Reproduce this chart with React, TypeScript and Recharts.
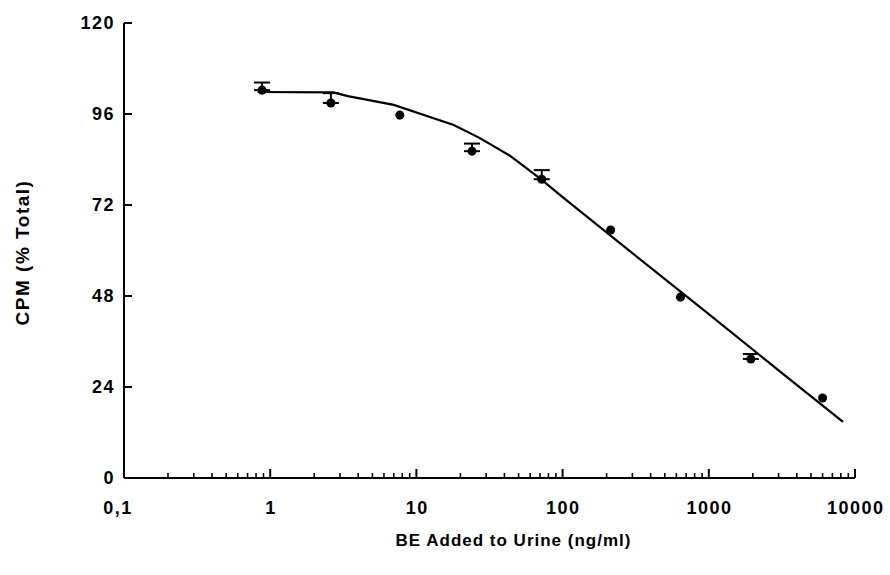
import React from 'react';
import { ComposedChart, Scatter, Line, XAxis, YAxis, ErrorBar, Label } from 'recharts';

// measured points: BE added (ng/ml) vs CPM (% total)
const doseX = [0.88, 2.6, 7.7, 24, 72, 213, 640, 1940, 6000];
const cpmY = [102.3, 98.9, 95.7, 86.2, 78.8, 65.4, 47.7, 31.4, 21.1];
const cpmErrUp = [2.0, 2.6, null, 2.0, 2.4, null, null, 1.3, null];

// fitted curve
const fitX = [0.82, 2.7, 3.4, 7, 18, 27, 44, 54, 72, 102, 300, 1000, 3000, 8280];
const fitY = [101.8, 101.7, 100.7, 98.4, 93.1, 89.7, 84.9, 82.3, 78.6, 73.8, 59.3, 43.2, 28.4, 14.8];

const yTicks = [0, 24, 48, 72, 96, 120];
const xMajorTicks = [0.1, 1, 10, 100, 1000, 10000];
const xMinorSteps = [2, 3, 4, 5, 6, 7, 8, 9];

const font = '"Liberation Sans", Arial, Helvetica, sans-serif';
const ink = '#000';

const points = doseX.map((x, i) => ({
  x,
  y: cpmY[i],
  err: cpmErrUp[i] == null ? null : [0, cpmErrUp[i]],
}));
const curve = fitX.map((x, i) => ({ x, y: fitY[i] }));

const xTicks = [
  ...xMajorTicks,
  ...xMajorTicks.slice(0, -1).flatMap((d) => xMinorSteps.map((s) => d * s)),
].sort((a, b) => a - b);

const formatX = (v: number) => (v < 1 ? String(v).replace('.', ',') : String(v));

const XTick = (props: any) => {
  const { x, y, payload } = props;
  const major = xMajorTicks.includes(payload.value);
  // the corner label sits a little left of its tick in the original
  const shift = payload.value < 1 ? -6 : 0.75;
  return (
    <g>
      <line x1={x} x2={x} y1={y} y2={y - (major ? 9 : 5)} stroke={ink} strokeWidth={major ? 2 : 1.6} />
      {major && (
        <text
          x={x + shift}
          y={y + 36}
          textAnchor="middle"
          fill={ink}
          fontSize={18}
          fontWeight={700}
          fontFamily={font}
          letterSpacing={1.5}
        >
          {formatX(payload.value)}
        </text>
      )}
    </g>
  );
};

export default function App() {
  return (
    <div style={{ position: 'absolute', left: 0, top: 0, background: '#fff' }}>
      <ComposedChart width={890} height={575} margin={{ top: 23, right: 35, bottom: 37, left: 24 }}>
        <XAxis
          dataKey="x"
          type="number"
          scale="log"
          domain={[0.1, 10000]}
          allowDataOverflow
          ticks={xTicks}
          interval={0}
          tickSize={0}
          tickMargin={0}
          tickLine={false}
          tick={<XTick />}
          height={60}
          axisLine={{ stroke: ink, strokeWidth: 2 }}
        >
          <Label
            content={(p: any) => {
              const vb = p.viewBox;
              return (
                <text
                  x={vb.x + vb.width / 2 + 24}
                  y={vb.y + 68}
                  textAnchor="middle"
                  fill={ink}
                  fontSize={17}
                  fontWeight={700}
                  fontFamily={font}
                  letterSpacing={1}
                >
                  BE Added to Urine (ng/ml)
                </text>
              );
            }}
          />
        </XAxis>
        <YAxis
          type="number"
          domain={[0, 120]}
          ticks={yTicks}
          interval={0}
          width={100}
          tickSize={-8}
          tickMargin={17}
          axisLine={{ stroke: ink, strokeWidth: 2 }}
          tickLine={{ stroke: ink, strokeWidth: 2 }}
          tick={{ fill: ink, fontSize: 18, fontWeight: 700, fontFamily: font, letterSpacing: 1.5 }}
        >
          <Label
            content={(p: any) => {
              const vb = p.viewBox;
              const cy = vb.y + vb.height / 2 + 2;
              return (
                <text
                  x={22}
                  y={cy}
                  transform={`rotate(-90 22 ${cy})`}
                  textAnchor="middle"
                  dominantBaseline="central"
                  fill={ink}
                  fontSize={19}
                  fontWeight={700}
                  fontFamily={font}
                  letterSpacing={1.5}
                >
                  CPM (% Total)
                </text>
              );
            }}
          />
        </YAxis>
        <Line
          data={curve}
          dataKey="y"
          type="linear"
          stroke={ink}
          strokeWidth={2.2}
          dot={false}
          activeDot={false}
          isAnimationActive={false}
        />
        <Scatter data={points} dataKey="y" fill={ink} isAnimationActive={false}>
          <ErrorBar dataKey="err" direction="y" width={8} stroke={ink} strokeWidth={2} />
        </Scatter>
      </ComposedChart>
    </div>
  );
}
